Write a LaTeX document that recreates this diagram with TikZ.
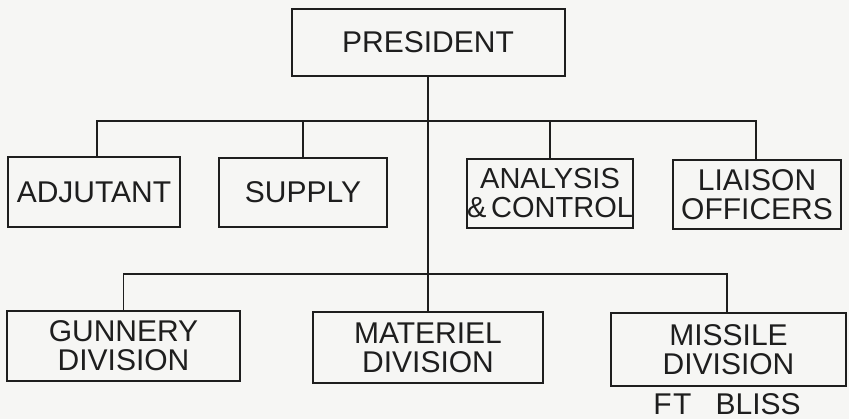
\documentclass[tikz,border=0pt]{standalone}
\usepackage{fontspec}
\setmainfont{Liberation Sans}
\begin{document}
\begin{tikzpicture}[x=1pt,y=-1pt,
  orgbox/.style={draw=ink,line width=2pt,fill=paper,text=ink,inner sep=0pt,align=center,
    font=\fontsize{30}{29}\selectfont},
  link/.style={draw=ink,line width=1.2pt}]
\definecolor{ink}{HTML}{1E1E1E}
\definecolor{paper}{HTML}{F6F6F4}
\fill[paper] (0,0) rectangle (849,419);
\useasboundingbox (0,0) rectangle (849,419);
% nodes
\node[orgbox,minimum width=273pt,minimum height=67pt] (pres) at (428,42.5) {PRESIDENT};
\node[orgbox,minimum width=172pt,minimum height=70pt] (adj) at (94,192) {ADJUTANT};
\node[orgbox,minimum width=168pt,minimum height=69pt] (sup) at (303,192.5) {SUPPLY};
\node[orgbox,minimum width=166pt,minimum height=69pt,font=\fontsize{29}{29}\selectfont] (ana) at (550,193.5) {ANALYSIS\\\&\,CONTROL};
\node[orgbox,minimum width=168pt,minimum height=69pt] (lia) at (757,194.5) {LIAISON\\OFFICERS};
\node[orgbox,minimum width=233pt,minimum height=70pt] (gun) at (123.5,346) {GUNNERY\\DIVISION};
\node[orgbox,minimum width=230pt,minimum height=71pt] (mat) at (428,347.5) {MATERIEL\\DIVISION};
\node[orgbox,minimum width=235pt,minimum height=73pt] (mis) at (728.5,349.5) {MISSILE\\DIVISION};
\node[text=ink,inner sep=0pt,font=\fontsize{30}{29}\selectfont] (ft) at (727,404) {F\hspace{0.05em}T\hspace{0.8em}BLISS};
% junctions
\coordinate (jA) at (428,121);
\coordinate (jB) at (428,274);
% connectors
\draw[link] (pres.south) -- (mat.north);
\draw[link] ([xshift=3pt]adj.north) |- (jA) -| ([xshift=-1pt]lia.north);
\draw[link] (jA -| sup.north) -- (sup.north);
\draw[link] (jA -| ana.north) -- (ana.north);
\draw[link] (gun.north) |- (jB) -| ([xshift=-1.5pt]mis.north);
\end{tikzpicture}
\end{document}
